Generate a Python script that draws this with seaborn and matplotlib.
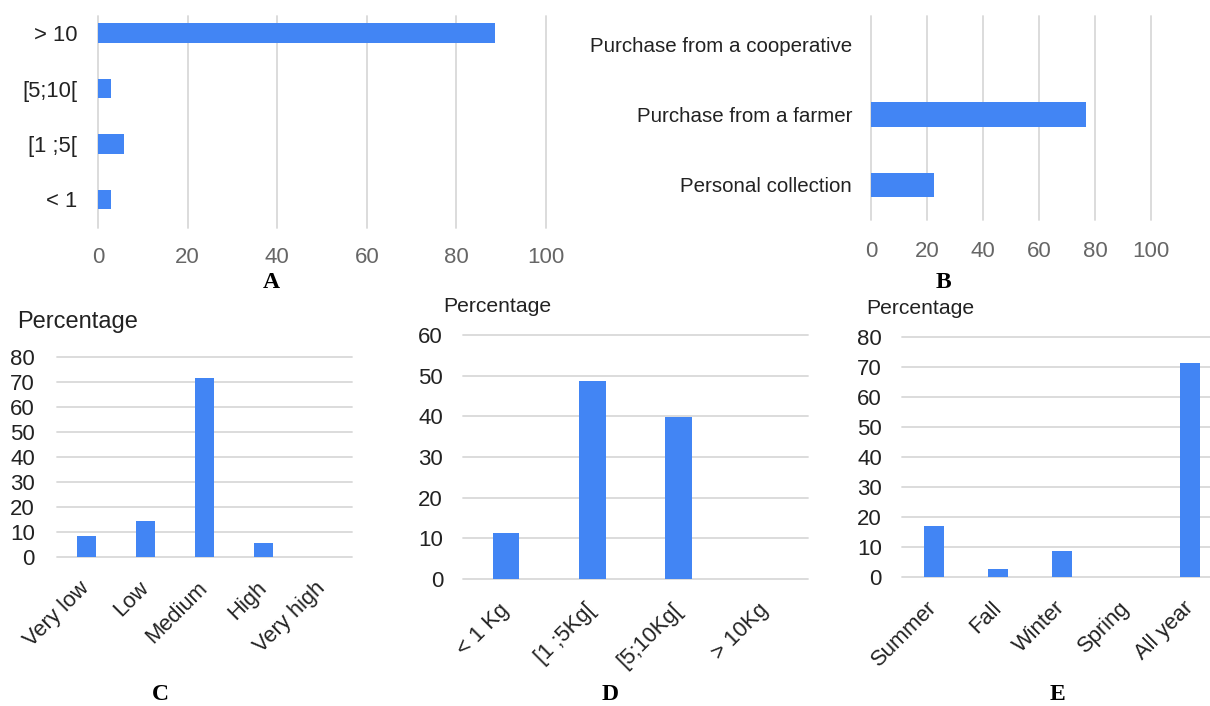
import matplotlib
matplotlib.use("Agg")
import matplotlib.pyplot as plt
import seaborn as sns

# Panel A - years of experience
a_labels = ["> 10", "[5;10[", "[1 ;5[", "< 1"]
a_values = [88.6, 2.9, 5.8, 2.9]

# Panel B - origin of the product
b_labels = ["Purchase from a cooperative", "Purchase from a farmer", "Personal collection"]
b_values = [0, 76.8, 22.5]

# Panel C - level
c_labels = ["Very low", "Low", "Medium", "High", "Very high"]
c_values = [8.6, 14.3, 71.5, 5.7, 0]

# Panel D - quantity
d_labels = ["< 1 Kg", "[1 ;5Kg[", "[5;10Kg[", "> 10Kg"]
d_values = [11.3, 48.6, 39.8, 0]

# Panel E - season
e_labels = ["Summer", "Fall", "Winter", "Spring", "All year"]
e_values = [17.0, 2.7, 8.7, 0, 71.3]

BLUE = "#4285F4"
GRID = "#d9d9d9"
DARK = "#222222"
GRAY = "#666666"
W, H = 1210, 706

sns.set_style("white")
plt.rcParams["font.family"] = ["Liberation Sans", "DejaVu Sans"]

fig = plt.figure(figsize=(W / 100, H / 100), dpi=100)


def box(left, right, top, bottom):
    return [left / W, 1 - bottom / H, (right - left) / W, (bottom - top) / H]


def hbar(rect, labels, values, ylim, ypad, xpad, ysize):
    ax = fig.add_axes(rect)
    sns.barplot(x=values, y=labels, ax=ax, color=BLUE, saturation=1,
                width=0.35, orient="h", linewidth=0)
    ax.set_xlim(0, 100)
    ax.set_ylim(*ylim)
    ax.set_xticks(range(0, 101, 20))
    ax.grid(axis="x", color=GRID, linewidth=1.3)
    for gl in ax.xaxis.get_gridlines():
        gl.set_clip_on(False)
    sns.despine(ax=ax, left=True, bottom=True)
    ax.tick_params(axis="y", length=0, pad=ypad, labelsize=ysize, labelcolor=DARK)
    ax.tick_params(axis="x", length=0, pad=xpad, labelsize=16, labelcolor=GRAY)
    ax.set_xlabel("")
    ax.set_ylabel("")
    return ax


def vbar(rect, labels, values, top, xlim, ypad):
    ax = fig.add_axes(rect)
    sns.barplot(x=labels, y=values, ax=ax, color=BLUE, saturation=1,
                width=0.31, linewidth=0)
    ax.set_ylim(0, top)
    ax.set_xlim(*xlim)
    ax.set_yticks(range(0, top + 1, 10))
    ax.grid(axis="y", color=GRID, linewidth=1.3)
    for gl in ax.yaxis.get_gridlines():
        gl.set_clip_on(False)
    sns.despine(ax=ax, left=True, bottom=True)
    ax.tick_params(axis="y", length=0, pad=ypad, labelsize=16, labelcolor=DARK)
    ax.tick_params(axis="x", length=0, pad=20, labelsize=15.8, labelcolor=DARK)
    plt.setp(ax.get_xticklabels(), rotation=45, ha="right", va="center",
             rotation_mode="anchor")
    ax.set_xlabel("")
    ax.set_ylabel("")
    return ax


hbar(box(98, 546, 16, 228), a_labels, a_values, (3.52, -0.31), 15, 14, 15.8)
hbar(box(871, 1151, 16, 220), b_labels, b_values, (2.5, -0.4), 13.5, 15, 14.8)

vbar(box(57, 352, 357, 557), c_labels, c_values, 80, (-0.5, 4.5), 16)
vbar(box(463, 808, 335, 579), d_labels, d_values, 60, (-0.5, 3.5), 14.4)
vbar(box(902, 1210, 337, 577), e_labels, e_values, 80, (-0.5, 4.31), 14.4)

# "Percentage" titles above the vertical charts
fig.text(17 / W, 1 - 322 / H, "Percentage", fontsize=17, color=DARK, ha="left", va="center")
fig.text(443 / W, 1 - 306 / H, "Percentage", fontsize=15.2, color=DARK, ha="left", va="center")
fig.text(866 / W, 1 - 309 / H, "Percentage", fontsize=15.2, color=DARK, ha="left", va="center")

# panel letters
for letter, x, y in [("A", 271, 283), ("B", 943, 283), ("C", 160, 694),
                     ("D", 610, 694), ("E", 1057, 694)]:
    fig.text(x / W, 1 - y / H, letter, fontsize=17, fontweight="bold",
             family="Liberation Serif", ha="center", va="center", color="black")

fig.savefig("out.png", dpi=100)
